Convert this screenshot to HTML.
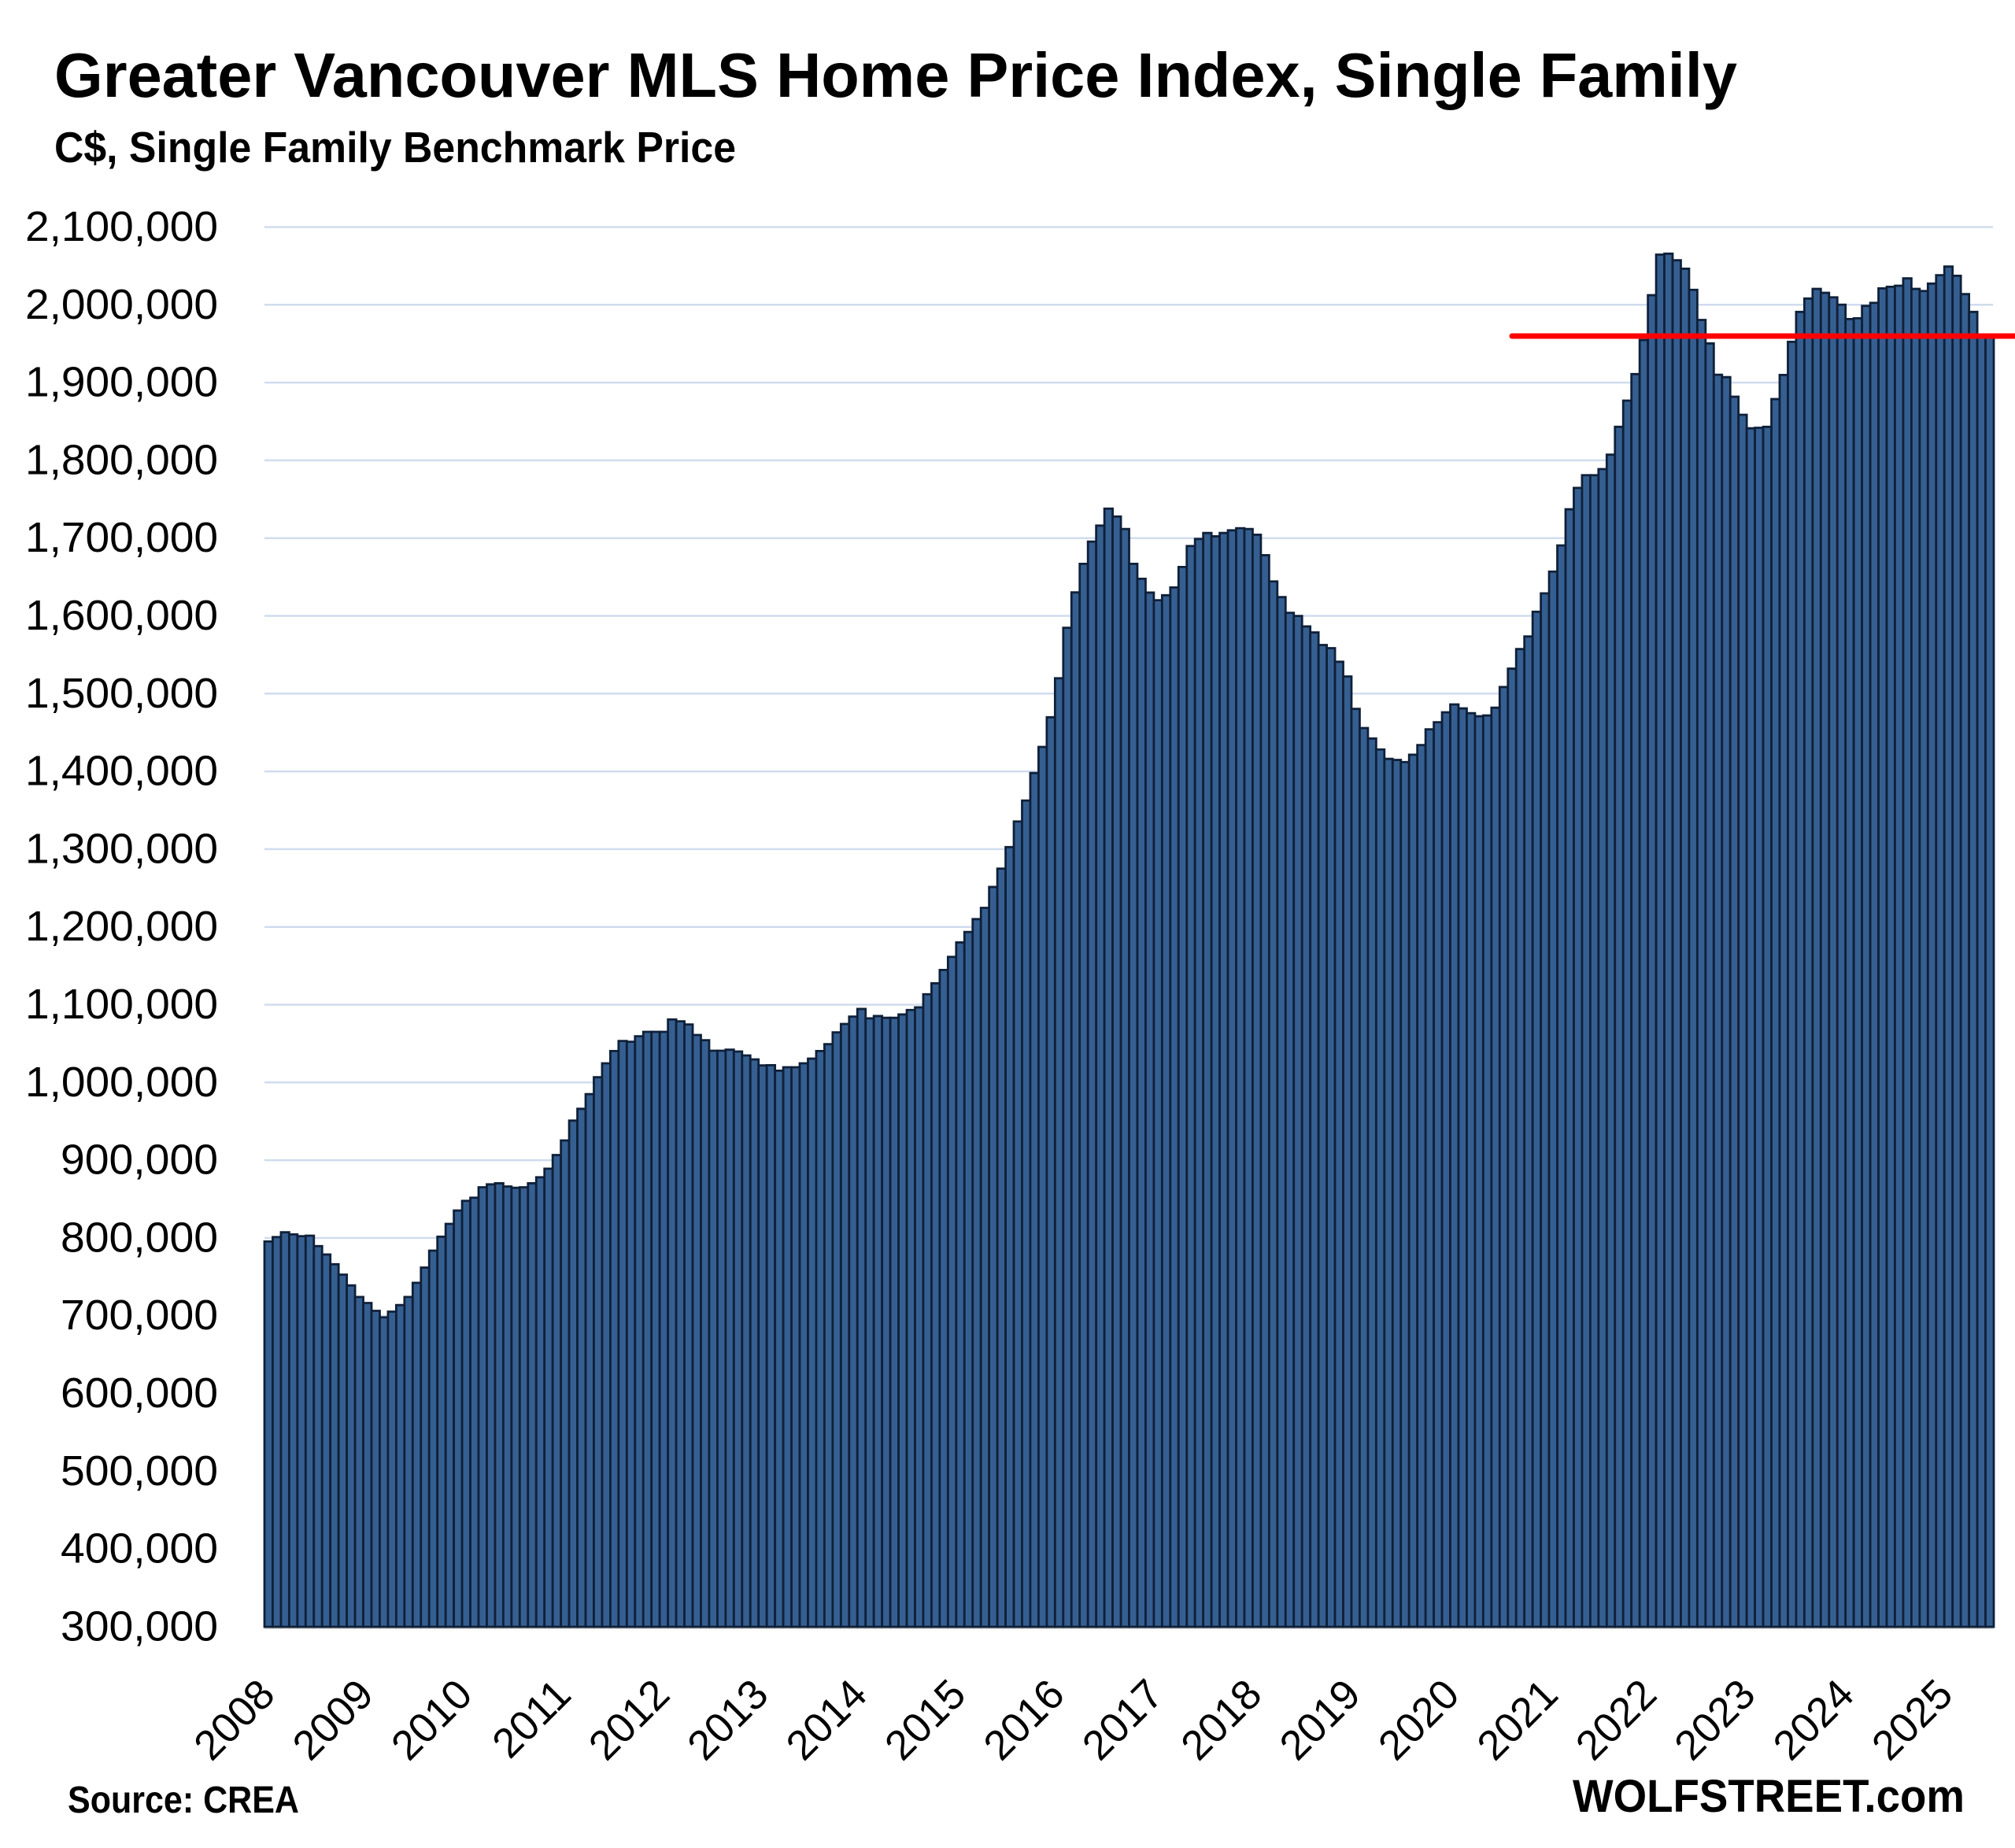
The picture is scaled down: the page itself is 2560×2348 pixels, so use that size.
<!DOCTYPE html>
<html>
<head>
<meta charset="utf-8">
<style>
html,body{margin:0;padding:0;background:#ffffff;}
body{width:2560px;height:2348px;overflow:hidden;}
svg{display:block;}
.b rect{vector-effect:non-scaling-stroke;}
text{font-family:"Liberation Sans",Arial,sans-serif;fill:#000;}
</style>
</head>
<body>
<svg width="2560" height="2348" viewBox="0 0 2560 2348" xmlns="http://www.w3.org/2000/svg">
<rect x="0" y="0" width="2560" height="2348" fill="#ffffff"/>
<text x="69" y="123" font-size="80" font-weight="bold" textLength="2138" lengthAdjust="spacingAndGlyphs">Greater Vancouver MLS Home Price Index, Single Family</text>
<text x="69" y="206" font-size="55" font-weight="bold" textLength="866" lengthAdjust="spacingAndGlyphs">C$, Single Family Benchmark Price</text>
<g stroke="#d0dcee" stroke-width="2.5">
<line x1="336" x2="2532" y1="288.5" y2="288.5"/>
<line x1="336" x2="2532" y1="387.3" y2="387.3"/>
<line x1="336" x2="2532" y1="486.1" y2="486.1"/>
<line x1="336" x2="2532" y1="584.9" y2="584.9"/>
<line x1="336" x2="2532" y1="683.7" y2="683.7"/>
<line x1="336" x2="2532" y1="782.5" y2="782.5"/>
<line x1="336" x2="2532" y1="881.3" y2="881.3"/>
<line x1="336" x2="2532" y1="980.1" y2="980.1"/>
<line x1="336" x2="2532" y1="1078.9" y2="1078.9"/>
<line x1="336" x2="2532" y1="1177.7" y2="1177.7"/>
<line x1="336" x2="2532" y1="1276.5" y2="1276.5"/>
<line x1="336" x2="2532" y1="1375.3" y2="1375.3"/>
<line x1="336" x2="2532" y1="1474.1" y2="1474.1"/>
<line x1="336" x2="2532" y1="1572.9" y2="1572.9"/>
<line x1="336" x2="2532" y1="1671.7" y2="1671.7"/>
<line x1="336" x2="2532" y1="1770.5" y2="1770.5"/>
<line x1="336" x2="2532" y1="1869.3" y2="1869.3"/>
<line x1="336" x2="2532" y1="1968.1" y2="1968.1"/>
</g>
<g font-size="54" text-anchor="end">
<text x="277" y="306" textLength="245" lengthAdjust="spacingAndGlyphs">2,100,000</text>
<text x="277" y="404.8" textLength="245" lengthAdjust="spacingAndGlyphs">2,000,000</text>
<text x="277" y="503.6" textLength="245" lengthAdjust="spacingAndGlyphs">1,900,000</text>
<text x="277" y="602.4" textLength="245" lengthAdjust="spacingAndGlyphs">1,800,000</text>
<text x="277" y="701.2" textLength="245" lengthAdjust="spacingAndGlyphs">1,700,000</text>
<text x="277" y="800" textLength="245" lengthAdjust="spacingAndGlyphs">1,600,000</text>
<text x="277" y="898.8" textLength="245" lengthAdjust="spacingAndGlyphs">1,500,000</text>
<text x="277" y="997.6" textLength="245" lengthAdjust="spacingAndGlyphs">1,400,000</text>
<text x="277" y="1096.4" textLength="245" lengthAdjust="spacingAndGlyphs">1,300,000</text>
<text x="277" y="1195.2" textLength="245" lengthAdjust="spacingAndGlyphs">1,200,000</text>
<text x="277" y="1294" textLength="245" lengthAdjust="spacingAndGlyphs">1,100,000</text>
<text x="277" y="1392.8" textLength="245" lengthAdjust="spacingAndGlyphs">1,000,000</text>
<text x="277" y="1491.6" textLength="200" lengthAdjust="spacingAndGlyphs">900,000</text>
<text x="277" y="1590.4" textLength="200" lengthAdjust="spacingAndGlyphs">800,000</text>
<text x="277" y="1689.2" textLength="200" lengthAdjust="spacingAndGlyphs">700,000</text>
<text x="277" y="1788" textLength="200" lengthAdjust="spacingAndGlyphs">600,000</text>
<text x="277" y="1886.8" textLength="200" lengthAdjust="spacingAndGlyphs">500,000</text>
<text x="277" y="1985.6" textLength="200" lengthAdjust="spacingAndGlyphs">400,000</text>
<text x="277" y="2084.4" textLength="200" lengthAdjust="spacingAndGlyphs">300,000</text>
</g>
<line x1="336" x2="2533" y1="2068.5" y2="2068.5" stroke="#d4d4d4" stroke-width="3"/>
<g class="b" transform="translate(336 2067) scale(10.462 -0.988)" fill="#365f91" stroke="#0f2039" stroke-width="2.8">
<rect x="0" width="1" height="495.6"/><rect x="1" width="1" height="501.3"/><rect x="2" width="1" height="507.4"/><rect x="3" width="1" height="504.7"/><rect x="4" width="1" height="502.4"/><rect x="5" width="1" height="503.0"/><rect x="6" width="1" height="489.6"/><rect x="7" width="1" height="478.8"/><rect x="8" width="1" height="466.3"/><rect x="9" width="1" height="452.9"/><rect x="10" width="1" height="439.1"/><rect x="11" width="1" height="424.2"/>
<rect x="12" width="1" height="416.5"/><rect x="13" width="1" height="406.4"/><rect x="14" width="1" height="398.0"/><rect x="15" width="1" height="405.4"/><rect x="16" width="1" height="413.8"/><rect x="17" width="1" height="424.2"/><rect x="18" width="1" height="442.4"/><rect x="19" width="1" height="462.0"/><rect x="20" width="1" height="483.8"/><rect x="21" width="1" height="501.7"/><rect x="22" width="1" height="518.2"/><rect x="23" width="1" height="535.4"/>
<rect x="24" width="1" height="547.8"/><rect x="25" width="1" height="551.9"/><rect x="26" width="1" height="565.3"/><rect x="27" width="1" height="569.0"/><rect x="28" width="1" height="570.4"/><rect x="29" width="1" height="566.3"/><rect x="30" width="1" height="564.6"/><rect x="31" width="1" height="565.3"/><rect x="32" width="1" height="570.4"/><rect x="33" width="1" height="578.1"/><rect x="34" width="1" height="589.2"/><rect x="35" width="1" height="606.7"/>
<rect x="36" width="1" height="625.5"/><rect x="37" width="1" height="651.0"/><rect x="38" width="1" height="666.2"/><rect x="39" width="1" height="685.1"/><rect x="40" width="1" height="706.8"/><rect x="41" width="1" height="724.7"/><rect x="42" width="1" height="740.5"/><rect x="43" width="1" height="753.4"/><rect x="44" width="1" height="752.4"/><rect x="45" width="1" height="759.5"/><rect x="46" width="1" height="765.2"/><rect x="47" width="1" height="765.2"/>
<rect x="48" width="1" height="765.2"/><rect x="49" width="1" height="781.1"/><rect x="50" width="1" height="778.7"/><rect x="51" width="1" height="774.7"/><rect x="52" width="1" height="761.1"/><rect x="53" width="1" height="754.4"/><rect x="54" width="1" height="740.9"/><rect x="55" width="1" height="740.9"/><rect x="56" width="1" height="742.2"/><rect x="57" width="1" height="739.9"/><rect x="58" width="1" height="734.8"/><rect x="59" width="1" height="729.7"/>
<rect x="60" width="1" height="722.0"/><rect x="61" width="1" height="722.3"/><rect x="62" width="1" height="715.2"/><rect x="63" width="1" height="719.6"/><rect x="64" width="1" height="719.6"/><rect x="65" width="1" height="724.7"/><rect x="66" width="1" height="730.7"/><rect x="67" width="1" height="740.5"/><rect x="68" width="1" height="749.3"/><rect x="69" width="1" height="764.5"/><rect x="70" width="1" height="775.3"/><rect x="71" width="1" height="784.8"/>
<rect x="72" width="1" height="794.6"/><rect x="73" width="1" height="782.5"/><rect x="74" width="1" height="785.5"/><rect x="75" width="1" height="783.2"/><rect x="76" width="1" height="783.2"/><rect x="77" width="1" height="787.5"/><rect x="78" width="1" height="793.3"/><rect x="79" width="1" height="796.6"/><rect x="80" width="1" height="813.5"/><rect x="81" width="1" height="827.6"/><rect x="82" width="1" height="844.8"/><rect x="83" width="1" height="861.6"/>
<rect x="84" width="1" height="880.1"/><rect x="85" width="1" height="893.6"/><rect x="86" width="1" height="910.1"/><rect x="87" width="1" height="924.6"/><rect x="88" width="1" height="951.5"/><rect x="89" width="1" height="975.1"/><rect x="90" width="1" height="1002.7"/><rect x="91" width="1" height="1035.7"/><rect x="92" width="1" height="1062.6"/><rect x="93" width="1" height="1098.0"/><rect x="94" width="1" height="1131.6"/><rect x="95" width="1" height="1169.7"/>
<rect x="96" width="1" height="1219.9"/><rect x="97" width="1" height="1284.8"/><rect x="98" width="1" height="1330.3"/><rect x="99" width="1" height="1367.0"/><rect x="100" width="1" height="1395.6"/><rect x="101" width="1" height="1416.2"/><rect x="102" width="1" height="1438.0"/><rect x="103" width="1" height="1427.9"/><rect x="104" width="1" height="1411.8"/><rect x="105" width="1" height="1367.0"/><rect x="106" width="1" height="1347.8"/><rect x="107" width="1" height="1330.0"/>
<rect x="108" width="1" height="1320.2"/><rect x="109" width="1" height="1326.6"/><rect x="110" width="1" height="1336.7"/><rect x="111" width="1" height="1363.0"/><rect x="112" width="1" height="1389.9"/><rect x="113" width="1" height="1399.0"/><rect x="114" width="1" height="1406.7"/><rect x="115" width="1" height="1402.4"/><rect x="116" width="1" height="1406.7"/><rect x="117" width="1" height="1410.1"/><rect x="118" width="1" height="1412.8"/><rect x="119" width="1" height="1411.8"/>
<rect x="120" width="1" height="1404.4"/><rect x="121" width="1" height="1378.1"/><rect x="122" width="1" height="1344.4"/><rect x="123" width="1" height="1324.2"/><rect x="124" width="1" height="1304.0"/><rect x="125" width="1" height="1300.0"/><rect x="126" width="1" height="1286.5"/><rect x="127" width="1" height="1278.8"/><rect x="128" width="1" height="1262.6"/><rect x="129" width="1" height="1258.6"/><rect x="130" width="1" height="1241.1"/><rect x="131" width="1" height="1222.2"/>
<rect x="132" width="1" height="1180.5"/><rect x="133" width="1" height="1155.9"/><rect x="134" width="1" height="1142.4"/><rect x="135" width="1" height="1128.3"/><rect x="136" width="1" height="1116.2"/><rect x="137" width="1" height="1114.8"/><rect x="138" width="1" height="1112.1"/><rect x="139" width="1" height="1121.5"/><rect x="140" width="1" height="1134.0"/><rect x="141" width="1" height="1154.2"/><rect x="142" width="1" height="1163.3"/><rect x="143" width="1" height="1176.1"/>
<rect x="144" width="1" height="1186.2"/><rect x="145" width="1" height="1181.1"/><rect x="146" width="1" height="1175.0"/><rect x="147" width="1" height="1171.0"/><rect x="148" width="1" height="1172.0"/><rect x="149" width="1" height="1182.0"/><rect x="150" width="1" height="1208.6"/><rect x="151" width="1" height="1232.2"/><rect x="152" width="1" height="1257.4"/><rect x="153" width="1" height="1273.6"/><rect x="154" width="1" height="1305.4"/><rect x="155" width="1" height="1329.1"/>
<rect x="156" width="1" height="1357.0"/><rect x="157" width="1" height="1390.7"/><rect x="158" width="1" height="1437.2"/><rect x="159" width="1" height="1464.7"/><rect x="160" width="1" height="1481.0"/><rect x="161" width="1" height="1481.0"/><rect x="162" width="1" height="1488.9"/><rect x="163" width="1" height="1507.4"/><rect x="164" width="1" height="1543.2"/><rect x="165" width="1" height="1576.9"/><rect x="166" width="1" height="1611.0"/><rect x="167" width="1" height="1654.8"/>
<rect x="168" width="1" height="1712.5"/><rect x="169" width="1" height="1764.7"/><rect x="170" width="1" height="1765.9"/><rect x="171" width="1" height="1757.4"/><rect x="172" width="1" height="1746.5"/><rect x="173" width="1" height="1719.4"/><rect x="174" width="1" height="1680.7"/><rect x="175" width="1" height="1650.5"/><rect x="176" width="1" height="1610.2"/><rect x="177" width="1" height="1607.1"/><rect x="178" width="1" height="1581.9"/><rect x="179" width="1" height="1558.7"/>
<rect x="180" width="1" height="1541.3"/><rect x="181" width="1" height="1542.0"/><rect x="182" width="1" height="1543.2"/><rect x="183" width="1" height="1578.9"/><rect x="184" width="1" height="1609.9"/><rect x="185" width="1" height="1652.5"/><rect x="186" width="1" height="1691.0"/><rect x="187" width="1" height="1708.2"/><rect x="188" width="1" height="1720.6"/><rect x="189" width="1" height="1715.5"/><rect x="190" width="1" height="1709.8"/><rect x="191" width="1" height="1700.3"/>
<rect x="192" width="1" height="1681.8"/><rect x="193" width="1" height="1682.8"/><rect x="194" width="1" height="1698.7"/><rect x="195" width="1" height="1702.7"/><rect x="196" width="1" height="1721.3"/><rect x="197" width="1" height="1723.3"/><rect x="198" width="1" height="1724.7"/><rect x="199" width="1" height="1734.1"/><rect x="200" width="1" height="1720.6"/><rect x="201" width="1" height="1717.9"/><rect x="202" width="1" height="1727.4"/><rect x="203" width="1" height="1738.2"/>
<rect x="204" width="1" height="1749.3"/><rect x="205" width="1" height="1737.5"/><rect x="206" width="1" height="1713.9"/><rect x="207" width="1" height="1691.0"/><rect x="208" width="1" height="1662.0"/><rect x="209" width="1" height="1659.0"/>
</g>
<line x1="1921" y1="427" x2="2560" y2="427" stroke="#ff0000" stroke-width="7" stroke-linecap="round"/>
<g font-size="53" text-anchor="end">
<text x="352" y="2156" transform="rotate(-45 352 2156)">2008</text>
<text x="477.4" y="2156" transform="rotate(-45 477.4 2156)">2009</text>
<text x="602.8" y="2156" transform="rotate(-45 602.8 2156)">2010</text>
<text x="728.2" y="2156" transform="rotate(-45 728.2 2156)">2011</text>
<text x="853.6" y="2156" transform="rotate(-45 853.6 2156)">2012</text>
<text x="979" y="2156" transform="rotate(-45 979 2156)">2013</text>
<text x="1104.4" y="2156" transform="rotate(-45 1104.4 2156)">2014</text>
<text x="1229.8" y="2156" transform="rotate(-45 1229.8 2156)">2015</text>
<text x="1355.2" y="2156" transform="rotate(-45 1355.2 2156)">2016</text>
<text x="1480.6" y="2156" transform="rotate(-45 1480.6 2156)">2017</text>
<text x="1606" y="2156" transform="rotate(-45 1606 2156)">2018</text>
<text x="1731.4" y="2156" transform="rotate(-45 1731.4 2156)">2019</text>
<text x="1856.8" y="2156" transform="rotate(-45 1856.8 2156)">2020</text>
<text x="1982.2" y="2156" transform="rotate(-45 1982.2 2156)">2021</text>
<text x="2107.6" y="2156" transform="rotate(-45 2107.6 2156)">2022</text>
<text x="2233" y="2156" transform="rotate(-45 2233 2156)">2023</text>
<text x="2358.4" y="2156" transform="rotate(-45 2358.4 2156)">2024</text>
<text x="2483.8" y="2156" transform="rotate(-45 2483.8 2156)">2025</text>
</g>
<text x="86" y="2303" font-size="48" font-weight="bold" textLength="294" lengthAdjust="spacingAndGlyphs">Source: CREA</text>
<text x="1998" y="2302" font-size="58" font-weight="bold" textLength="498" lengthAdjust="spacingAndGlyphs">WOLFSTREET.com</text>
</svg>
</body>
</html>
